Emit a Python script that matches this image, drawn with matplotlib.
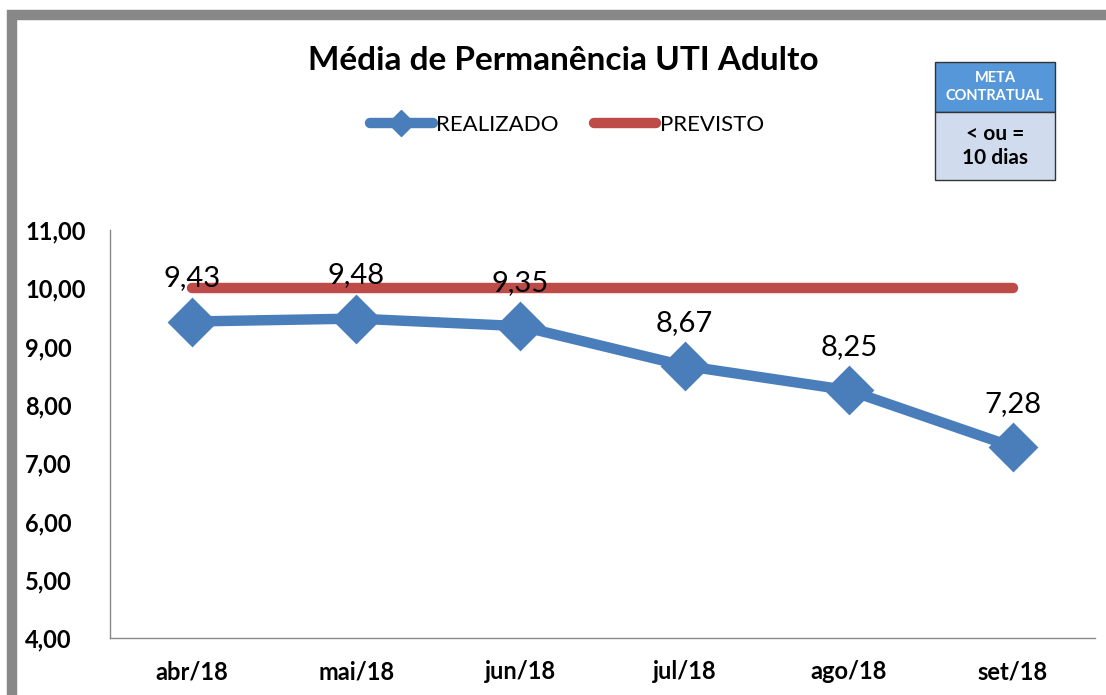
import matplotlib.pyplot as plt
from matplotlib.patches import Rectangle
from matplotlib.lines import Line2D

# chart data
months = ["abr/18", "mai/18", "jun/18", "jul/18", "ago/18", "set/18"]
realizado = [9.43, 9.48, 9.35, 8.67, 8.25, 7.28]
previsto = [10.0, 10.0, 10.0, 10.0, 10.0, 10.0]
y_ticks = [4, 5, 6, 7, 8, 9, 10, 11]

BLUE = '#4A7EBB'
RED = '#BE4B48'
plt.rcParams['font.family'] = ['Lato', 'DejaVu Sans']

fig = plt.figure(figsize=(11.06, 6.95), dpi=100)

# grey outer frame (right and bottom are cut off)
fig.patches.append(Rectangle((12 / 1106, -0.1), 1.2, (695 - 15) / 695 + 0.1,
                             transform=fig.transFigure, fill=False,
                             edgecolor='#888888', linewidth=7.5, zorder=0))

ax = fig.add_axes([110 / 1106, 57 / 695, 985 / 1106, 408 / 695])
x = range(len(months))

ax.plot(x, previsto, color=RED, linewidth=7.5, solid_capstyle='round', zorder=2)
ax.plot(x, realizado, color=BLUE, linewidth=7.5, marker='D', markersize=20,
        markeredgewidth=5, markeredgecolor=BLUE, markerfacecolor=BLUE,
        solid_joinstyle='round', zorder=3)

for i, v in enumerate(realizado):
    ax.annotate(f"{v:.2f}".replace('.', ','), (i, v), xytext=(0, 31),
                textcoords='offset points', ha='center', va='center',
                fontsize=21, color='black', zorder=4)

ax.set_xlim(-0.5, len(months) - 0.5)
ax.set_ylim(4, 11)
ax.set_xticks(list(x))
ax.set_xticklabels(months, fontsize=17, fontweight='bold')
ax.set_yticks(y_ticks)
ax.set_yticklabels([f"{t:.2f}".replace('.', ',') for t in y_ticks],
                   fontsize=17, fontweight='bold')
ax.tick_params(length=0)
ax.tick_params(axis='x', pad=16)
ax.tick_params(axis='y', pad=61)
for lbl in ax.get_yticklabels():
    lbl.set_horizontalalignment('left')
for s in ['top', 'right']:
    ax.spines[s].set_visible(False)
for s in ['left', 'bottom']:
    ax.spines[s].set_color('#888888')
    ax.spines[s].set_linewidth(1)

fig.text(563 / 1106, 1 - 60 / 695, "Média de Permanência UTI Adulto",
         ha='center', va='center', fontsize=24, fontweight='bold')

handles = [Line2D([0], [0], color=BLUE, linewidth=7.5, marker='D', markersize=13,
                  markeredgecolor=BLUE, solid_capstyle='round'),
           Line2D([0], [0], color=RED, linewidth=7.5, solid_capstyle='round')]
fig.legend(handles, ["REALIZADO", "PREVISTO"], loc='center',
           bbox_to_anchor=(567 / 1106, 1 - 125 / 695), ncol=2, frameon=False,
           fontsize=16, handlelength=2.8, handletextpad=0.15, columnspacing=1.6)

# meta contratual box
bx, bw = 935 / 1106, 120 / 1106
top_h = 50 / 695
bot_h = 68 / 695
by_top = 1 - 112 / 695
by_bot = 1 - 180 / 695
fig.patches.append(Rectangle((bx, by_top), bw, top_h, transform=fig.transFigure,
                             facecolor='#5597D8', edgecolor='#333333', linewidth=1))
fig.patches.append(Rectangle((bx, by_bot), bw, bot_h, transform=fig.transFigure,
                             facecolor='#D0DCEE', edgecolor='#333333', linewidth=1))
fig.text(bx + bw / 2, by_top + top_h / 2, "META\nCONTRATUAL", ha='center',
         va='center', fontsize=10.5, fontweight='bold', color='white',
         linespacing=1.3)
fig.text(bx + bw / 2, by_bot + bot_h / 2, "< ou =\n10 dias", ha='center',
         va='center', fontsize=15, fontweight='bold', color='black',
         linespacing=1.25)

fig.savefig('out.png', dpi=100)
